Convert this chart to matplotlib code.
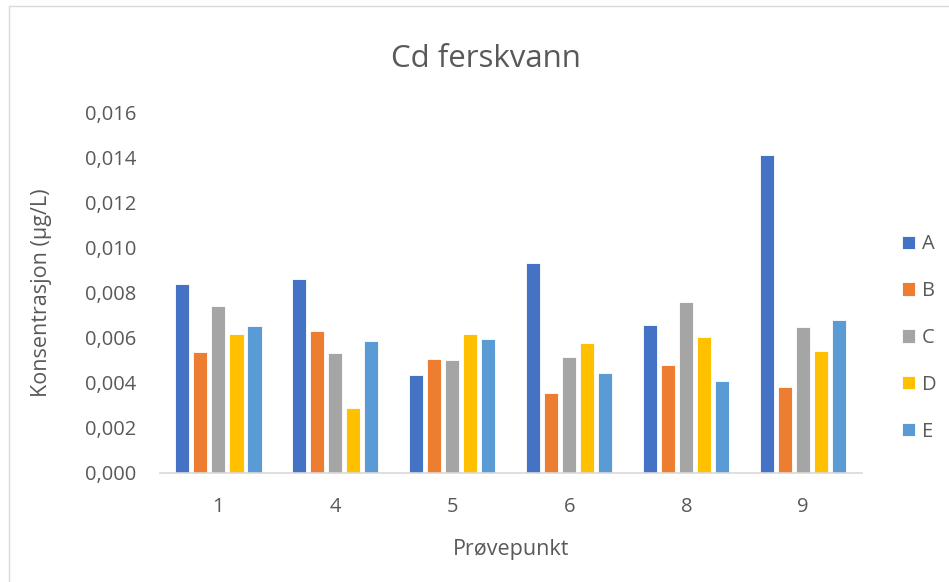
import numpy as np
import matplotlib

matplotlib.use('Agg')
import matplotlib.pyplot as plt
from matplotlib.ticker import FuncFormatter
from matplotlib.patches import Rectangle

plt.rcParams['font.family'] = ['Open Sans', 'DejaVu Sans']

points = ['1', '4', '5', '6', '8', '9']
series = ['A', 'B', 'C', 'D', 'E']
A = [0.00840, 0.00860, 0.00437, 0.00933, 0.00658, 0.01412]
B = [0.00538, 0.00629, 0.00507, 0.00356, 0.00480, 0.00380]
C = [0.00742, 0.00533, 0.00500, 0.00516, 0.00760, 0.00649]
D = [0.00619, 0.00287, 0.00619, 0.00578, 0.00606, 0.00544]
E = [0.00655, 0.00585, 0.00596, 0.00443, 0.00409, 0.00681]
colors = ['#4472C4', '#ED7D31', '#A5A5A5', '#FFC000', '#5B9BD5']

fig = plt.figure(figsize=(9.49, 5.82), dpi=100)
ax = fig.add_axes([0.1686, 0.1873, 0.7394, 0.6187])

x = np.arange(len(points))
pitch = 0.154
width = 0.12
for i, (name, vals) in enumerate(zip(series, [A, B, C, D, E])):
    ax.bar(x + (i - 2) * pitch, vals, width=width, color=colors[i],
           label=name, edgecolor='white', linewidth=0.6, zorder=2)

ax.set_xlim(-0.5, len(points) - 0.5)
ax.set_ylim(0, 0.016)
ax.set_yticks(np.arange(0, 0.0161, 0.002))
ax.yaxis.set_major_formatter(FuncFormatter(lambda v, p: f'{v:.3f}'.replace('.', ',')))
ax.set_xticks(x)
ax.set_xticklabels(points)

for s in ['top', 'right', 'left']:
    ax.spines[s].set_visible(False)
ax.spines['bottom'].set_color('#D9D9D9')
ax.spines['bottom'].set_linewidth(1.2)
ax.tick_params(axis='both', length=0, labelsize=14.5, colors='#595959')
ax.tick_params(axis='y', pad=17)
ax.tick_params(axis='x', pad=17)

fig.text(486 / 949, 1 - 59 / 582, 'Cd ferskvann', fontsize=22.5, color='#595959',
         ha='center', va='center')
ax.set_ylabel('Konsentrasjon (µg/L)', fontsize=15.5, color='#595959', labelpad=24)
ax.set_xlabel('Prøvepunkt', fontsize=15.5, color='#595959', labelpad=16)

leg = ax.legend(loc='center left', bbox_to_anchor=(1.0, 0.375), frameon=False,
                fontsize=14.5, labelcolor='#595959', handlelength=0.65,
                handleheight=0.65, handletextpad=0.35, labelspacing=1.33,
                borderaxespad=1.6)

fig.patches.append(Rectangle((0.009, -0.01), 1.2, 1.0, transform=fig.transFigure,
                             fill=False, edgecolor='#D9D9D9', linewidth=1))

fig.savefig('out.png', dpi=100)
